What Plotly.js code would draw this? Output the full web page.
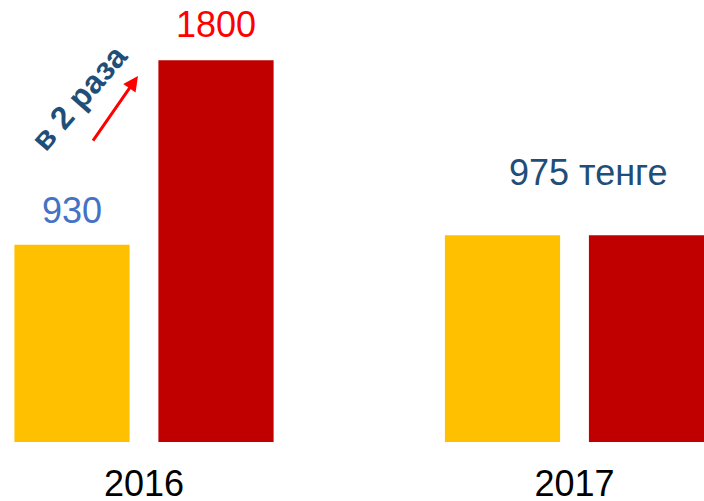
<!DOCTYPE html>
<html>
<head>
<meta charset="utf-8">
<script src="https://cdn.plot.ly/plotly-3.0.1.min.js"></script>
<style>
  html, body { margin: 0; padding: 0; background: #fff; }
  #plot { width: 704px; height: 501px; }
</style>
</head>
<body>
<div id="plot"></div>
<script>
const years = ["2016", "2017"];
const yellowValues = [930, 975];
const redValues = [1800, 975];
const unit = "тенге";
const growthText = "в 2 раза";

const FONT = "Arial, 'Liberation Sans', sans-serif";

const data = [
    {
        x: years,
        y: yellowValues,
        type: "bar",
        marker: { color: "#FFC000" },
        hoverinfo: "none",
    },
    {
        x: years,
        y: redValues,
        type: "bar",
        marker: { color: "#C00000" },
        hoverinfo: "none",
    },
];

// category positions (index on the category axis)
const pos2016 = years.indexOf("2016");
const pos2017 = years.indexOf("2017");

const layout = {
    width: 704,
    height: 501,
    margin: { l: 0, r: 0, t: 0, b: 59 },
    paper_bgcolor: "white",
    plot_bgcolor: "white",
    showlegend: false,
    barmode: "group",
    bargap: 0.331,
    bargroupgap: 0.2,
    font: { family: FONT },
    xaxis: {
        type: "category",
        range: [-0.3345, 1.3008],
        showgrid: false,
        showline: false,
        zeroline: false,
        ticks: "",
        ticklabelstandoff: 17,
        tickfont: { size: 36, color: "black", family: FONT },
    },
    yaxis: {
        visible: false,
        range: [0, 2084],
    },
    annotations: [
        {
            x: pos2016, y: yellowValues[0],
            text: String(yellowValues[0]),
            showarrow: false, xanchor: "center", yanchor: "bottom",
            xshift: -72, yshift: 12,
            font: { size: 36, color: "#4472C4", family: FONT },
        },
        {
            x: pos2016, y: redValues[0],
            text: String(redValues[0]),
            showarrow: false, xanchor: "center", yanchor: "bottom",
            xshift: 72, yshift: 13,
            font: { size: 36, color: "#FF0000", family: FONT },
        },
        {
            x: pos2017, y: yellowValues[1],
            text: yellowValues[1] + " " + unit,
            showarrow: false, xanchor: "center", yanchor: "bottom",
            xshift: 13, yshift: 40,
            font: { size: 36, color: "#1F4E79", family: FONT },
        },
        {
            xref: "paper", yref: "paper",
            x: 0.112, y: 0.778,
            xanchor: "center", yanchor: "middle",
            text: "<b>" + growthText + "</b>",
            textangle: -49,
            showarrow: false,
            font: { size: 32, color: "#1F4E79", family: FONT },
        },
        {
            xref: "paper", yref: "paper",
            x: 0.196, y: 0.828,
            text: "",
            showarrow: true,
            arrowhead: 2,
            arrowsize: 1,
            arrowwidth: 3,
            arrowcolor: "#FF0000",
            ax: -46, ay: 66,
        },
    ],
};

Plotly.newPlot(document.getElementById("plot"), data, layout, { staticPlot: true });
</script>
</body>
</html>
